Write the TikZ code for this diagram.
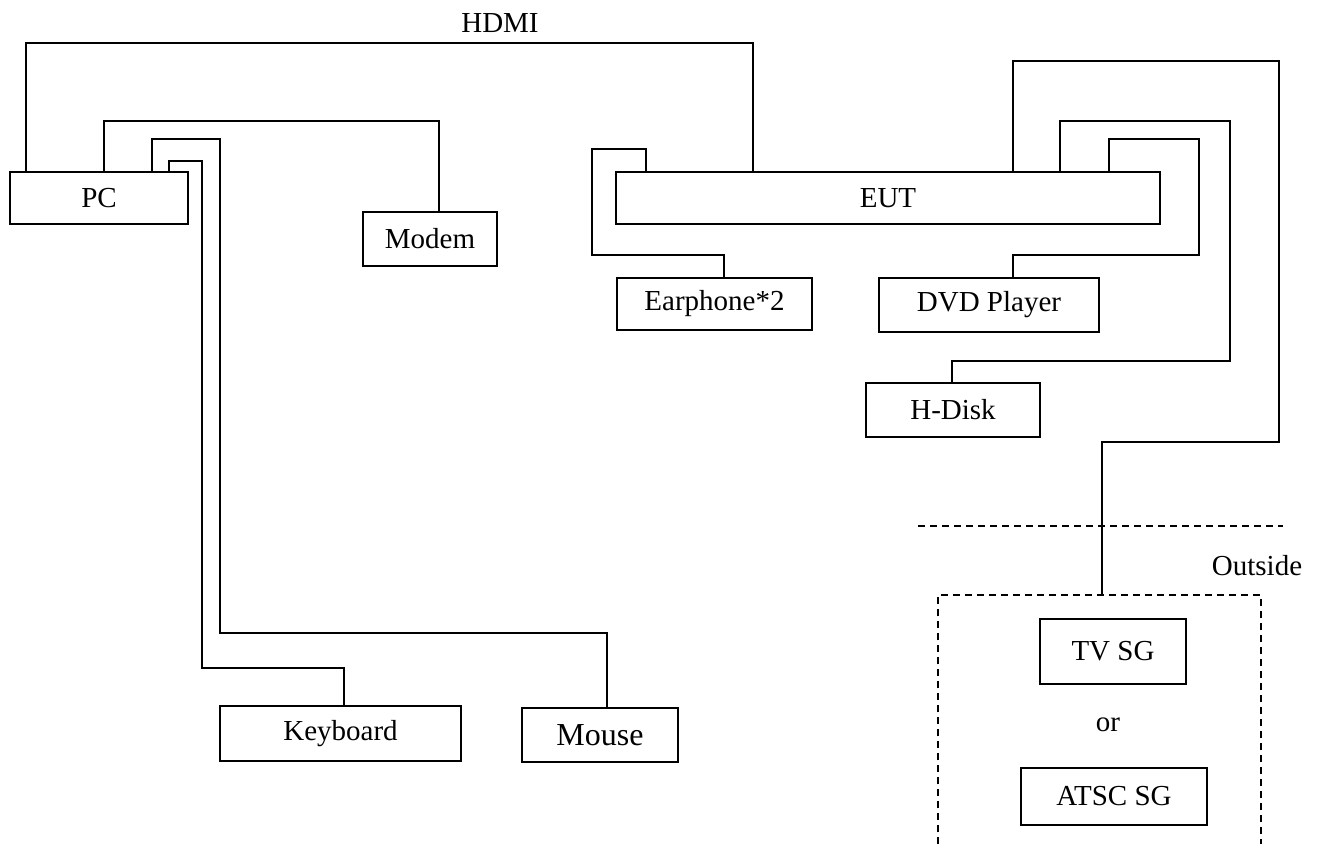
\documentclass[tikz,border=0pt]{standalone}
\usepackage{fontspec}
\setmainfont{Liberation Serif}
\begin{document}
\begin{tikzpicture}[x=1pt, y=-1pt, line width=1.2pt, font=\fontsize{29}{34}\selectfont,
    caixa/.style={draw, rectangle, inner sep=0pt},
    tracejado/.style={dash pattern=on 7pt off 5pt}]
    \useasboundingbox (0,0) rectangle (1317,844);

    % Caixas dos equipamentos
    \node[caixa, minimum width=178pt, minimum height=52pt] (pc) at (99,198) {PC};
    \node[caixa, minimum width=134pt, minimum height=54pt] (modem) at (430,239) {Modem};
    \node[caixa, minimum width=241pt, minimum height=55pt] (keyboard) at (340.5,733.5) {Keyboard};
    \node[caixa, minimum width=156pt, minimum height=54pt, font=\fontsize{32}{38}\selectfont] (mouse) at (600,735) {Mouse};
    \node[caixa, minimum width=544pt, minimum height=52pt] (eut) at (888,198) {EUT};
    \node[caixa, minimum width=195pt, minimum height=52pt] (earphone) at (714.5,304) {Earphone*2};
    \node[caixa, minimum width=220pt, minimum height=54pt] (dvd) at (989,305) {DVD Player};
    \node[caixa, minimum width=174pt, minimum height=54pt] (hdisk) at (953,410) {H-Disk};
    \node[caixa, minimum width=146pt, minimum height=65pt] (tvsg) at (1113,651.5) {TV SG};
    \node[caixa, minimum width=186pt, minimum height=57pt] (atscsg) at (1114,796.5) {ATSC SG};

    % Textos soltos
    \node (hdmi) at (500,23) {HDMI};
    \node (ou) at (1108,725) {or};
    \node (outside) at (1257,566) {Outside};

    % Area externa
    \draw[tracejado] (918,526) -- (1283,526);
    \draw[tracejado] (938,844) |- (1261,595) -- (1261,844);
    \coordinate (sgin) at (1102,595);

    % Cabos do PC
    \draw (pc.north -| 26,0) |- (753,43) -- (eut.north -| 753,0);
    \draw (pc.north -| 104,0) |- (439,121) -- (modem.north -| 439,0);
    \draw (pc.north -| 152,0) |- (220,139) |- (607,633) -- (mouse.north -| 607,0);
    \draw (pc.north -| 169,0) |- (202,161) |- (344,668) -- (keyboard.north -| 344,0);

    % Cabos do EUT
    \draw (eut.north -| 646,0) |- (592,149) |- (724,255) -- (earphone.north -| 724,0);
    \draw (eut.north -| 1109,0) |- (1199,139) |- (1013,255) -- (dvd.north -| 1013,0);
    \draw (eut.north -| 1060,0) |- (1230,121) |- (952,361) -- (hdisk.north -| 952,0);
    \draw (eut.north -| 1013,0) |- (1279,61) |- (1102,442) -- (sgin);
\end{tikzpicture}
\end{document}
